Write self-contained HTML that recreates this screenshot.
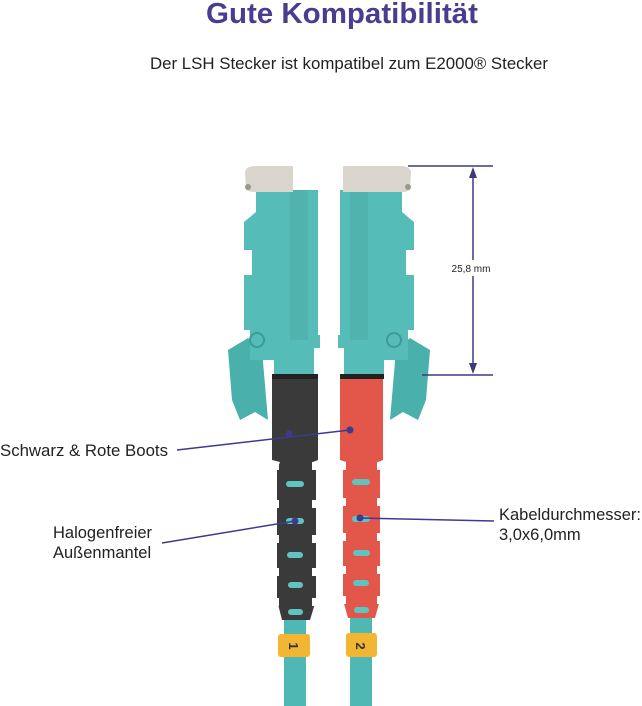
<!DOCTYPE html>
<html><head><meta charset="utf-8"><style>
body{margin:0;background:#fff;width:642px;height:706px;overflow:hidden;font-family:"Liberation Sans",sans-serif}
</style></head><body>
<svg width="642" height="706" viewBox="0 0 642 706" xmlns="http://www.w3.org/2000/svg" style="position:absolute;left:0;top:0">
<text x="342" y="23" text-anchor="middle" font-size="29" font-weight="bold" fill="#4a3d8f" font-family="Liberation Sans, sans-serif" textLength="272" lengthAdjust="spacingAndGlyphs">Gute Kompatibilität</text>
<text x="349" y="69" text-anchor="middle" font-size="16.5" fill="#222" font-family="Liberation Sans, sans-serif" textLength="398" lengthAdjust="spacingAndGlyphs">Der LSH Stecker ist kompatibel zum E2000® Stecker</text>

<!-- cables -->
<rect x="284" y="615" width="22" height="91" fill="#4fb8b4"/>
<rect x="350" y="612" width="22" height="94" fill="#4fb8b4"/>
<rect x="278" y="634" width="32" height="23" rx="3" fill="#f2b632"/>
<text x="294" y="651" text-anchor="middle" font-size="13" font-weight="bold" fill="#333" transform="rotate(90 294 646)">1</text>
<rect x="346" y="633" width="31" height="24" rx="3" fill="#f2b632"/>
<text x="361" y="651" text-anchor="middle" font-size="13" font-weight="bold" fill="#333" transform="rotate(90 361 646)">2</text>

<!-- black boot -->
<path d="M272 378 H318 V460 L313 462 L316 470 V600 L310 620 H282 L277 600 V470 L280 462 L272 460 Z" fill="#3a3a3a"/>
<g fill="#fff">
<rect x="270" y="462" width="9" height="8"/><rect x="312" y="462" width="9" height="8"/>
<rect x="270" y="500" width="9" height="8"/><rect x="312" y="500" width="9" height="8"/>
<rect x="270" y="535" width="9" height="8"/><rect x="312" y="535" width="9" height="8"/>
<rect x="270" y="568" width="9" height="8"/><rect x="312" y="568" width="9" height="8"/>
<rect x="270" y="598" width="9" height="8"/><rect x="312" y="598" width="9" height="8"/>
</g>
<g fill="#5fc4c0">
<rect x="286" y="481" width="18" height="6" rx="3"/><rect x="286" y="518" width="18" height="6" rx="3"/>
<rect x="287" y="552" width="16" height="6" rx="3"/><rect x="288" y="582" width="15" height="6" rx="3"/>
<rect x="288" y="609" width="15" height="6" rx="3"/>
</g>
<!-- red boot -->
<path d="M340 378 H383 V460 L378 462 L380 470 V600 L375 618 H348 L343 600 V470 L346 462 L340 460 Z" fill="#e2574a"/>
<g fill="#fff">
<rect x="337" y="462" width="9" height="8"/><rect x="377" y="462" width="9" height="8"/>
<rect x="337" y="498" width="9" height="8"/><rect x="377" y="498" width="9" height="8"/>
<rect x="337" y="533" width="9" height="8"/><rect x="377" y="533" width="9" height="8"/>
<rect x="337" y="566" width="9" height="8"/><rect x="377" y="566" width="9" height="8"/>
<rect x="337" y="596" width="9" height="8"/><rect x="377" y="596" width="9" height="8"/>
</g>
<g fill="#5fc4c0">
<rect x="352" y="479" width="18" height="6" rx="3"/><rect x="352" y="516" width="18" height="6" rx="3"/>
<rect x="353" y="550" width="17" height="6" rx="3"/><rect x="353" y="580" width="16" height="6" rx="3"/>
<rect x="354" y="607" width="15" height="6" rx="3"/>
</g>

<!-- left connector -->
<path d="M228 350 L248 338 L262 350 L268 420 L255 412 L240 420 L232 400 Z" fill="#4ab0ab"/>
<path d="M256 190 H318 V335 H320 V348 H314 V375 H274 V360 H250 V330 H244 V275 H252 V250 H244 V222 L256 212 Z" fill="#56bcb7"/>
<rect x="290" y="190" width="18" height="150" fill="#4aa9a4" opacity=".5"/>
<circle cx="257" cy="340" r="7" fill="none" stroke="#3e9a95" stroke-width="2"/>
<path d="M245 172 Q246 166 256 166 H293 V192 H252 L246 190 Z" fill="#d9d5cc"/>
<circle cx="248" cy="187" r="3" fill="#9c988e"/>
<rect x="272" y="374" width="46" height="5" fill="#222"/>

<!-- right connector -->
<path d="M430 350 L410 338 L396 350 L390 420 L403 412 L418 420 L426 400 Z" fill="#4ab0ab"/>
<path d="M402 190 H340 V335 H338 V348 H344 V375 H384 V360 H408 V330 H414 V275 H406 V250 H414 V222 L402 212 Z" fill="#56bcb7"/>
<rect x="350" y="190" width="18" height="150" fill="#4aa9a4" opacity=".5"/>
<circle cx="394" cy="340" r="7" fill="none" stroke="#3e9a95" stroke-width="2"/>
<path d="M411 172 Q410 166 400 166 H343 V192 H405 L410 190 Z" fill="#d9d5cc"/>
<circle cx="408" cy="187" r="3" fill="#9c988e"/>
<rect x="340" y="374" width="44" height="5" fill="#222"/>

<!-- dimension -->
<g stroke="#3e3a80" stroke-width="1.5" fill="none">
<line x1="408" y1="166" x2="493" y2="166"/><line x1="422" y1="375" x2="493" y2="375"/>
<line x1="473" y1="170" x2="473" y2="371"/>
</g>
<path d="M473 167 L469 178 H477 Z M473 374 L469 363 H477 Z" fill="#3e3a80"/>
<rect x="443" y="260" width="56" height="16" fill="#fff"/>
<text x="471" y="272" text-anchor="middle" font-size="10" fill="#222">25,8 mm</text>

<!-- annotations -->
<g stroke="#3e3a8e" stroke-width="1.5">
<line x1="177" y1="450" x2="350" y2="430"/>
<line x1="162" y1="543" x2="295" y2="521"/>
<line x1="360" y1="518" x2="494" y2="521"/>
</g>
<g fill="#3e3a8e"><circle cx="289" cy="434" r="3.5"/><circle cx="350" cy="430" r="3.5"/><circle cx="295" cy="521" r="3.5"/><circle cx="360" cy="518" r="3.5"/></g>
<g font-size="16.5" fill="#222">
<text x="0" y="456" textLength="168" lengthAdjust="spacingAndGlyphs">Schwarz &amp; Rote Boots</text>
<text x="53" y="538">Halogenfreier</text>
<text x="53" y="558">Außenmantel</text>
<text x="499" y="520" textLength="142" lengthAdjust="spacingAndGlyphs">Kabeldurchmesser:</text>
<text x="499" y="540">3,0x6,0mm</text>
</g>
</svg>
</body></html>
